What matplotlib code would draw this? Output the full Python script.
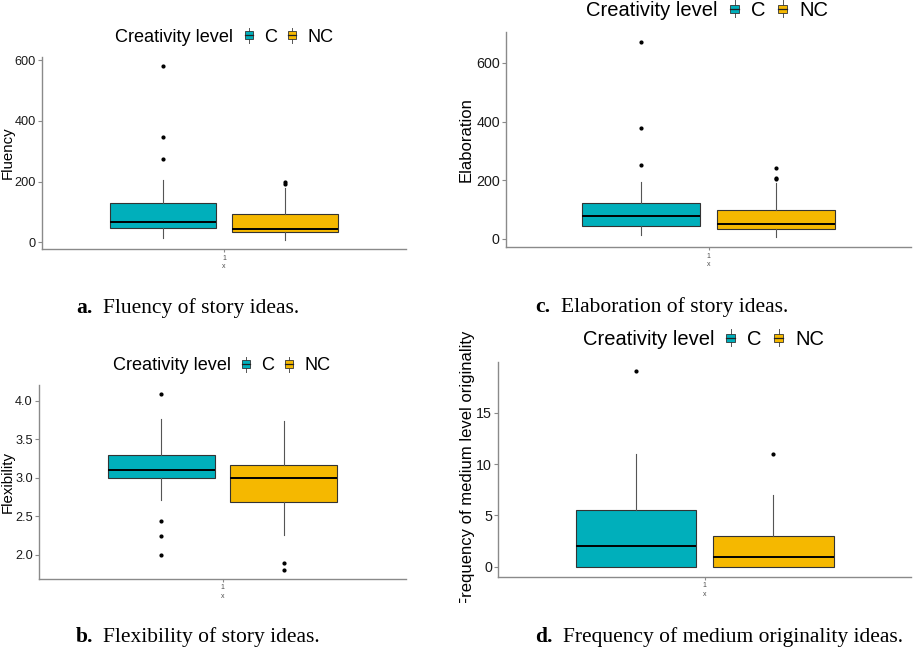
import matplotlib
matplotlib.use('Agg')
import matplotlib.pyplot as plt
from matplotlib.patches import Rectangle
from matplotlib.lines import Line2D
from matplotlib.legend_handler import HandlerBase
from matplotlib.transforms import Bbox, TransformedBbox

W, H = 913, 650

groups = ['C', 'NC']
colors = ['#00AFBB', '#F5B800']

# box stats: q1, median, q3, whisker low, whisker high, outliers
fluency_C = dict(q1=47, med=68, q3=129, whislo=14, whishi=207, fliers=[582, 346, 275])
fluency_NC = dict(q1=34, med=45, q3=94, whislo=7, whishi=178, fliers=[200, 191])

elab_C = dict(q1=44, med=78, q3=122, whislo=15, whishi=194, fliers=[672, 378, 252])
elab_NC = dict(q1=35, med=51, q3=100, whislo=6, whishi=191, fliers=[242, 208, 204])

flex_C = dict(q1=3.0, med=3.10, q3=3.30, whislo=2.71, whishi=3.76, fliers=[4.09, 2.43, 2.24, 2.0])
flex_NC = dict(q1=2.68, med=3.0, q3=3.16, whislo=2.25, whishi=3.74, fliers=[1.89, 1.80])

medium_C = dict(q1=0, med=2, q3=5.5, whislo=0, whishi=11, fliers=[19])
medium_NC = dict(q1=0, med=1, q3=3, whislo=0, whishi=7, fliers=[11])

ylabels = ['Fluency', 'Elaboration', 'Flexibility', 'Frequency of medium level originality']
yticks = [[0, 200, 400, 600], [0, 200, 400, 600], [2.0, 2.5, 3.0, 3.5, 4.0], [0, 5, 10, 15]]
captions = [('a.', 'Fluency of story ideas.'), ('c.', 'Elaboration of story ideas.'),
            ('b.', 'Flexibility of story ideas.'), ('d.', 'Frequency of medium originality ideas.')]


def fx(x):
    return x / W


def fy(y):
    return 1 - y / H


class BoxKey(HandlerBase):
    def create_artists(self, legend, orig, xd, yd, w, h, fs, trans):
        x0, y0 = -xd, -yd
        fc = orig.get_facecolor()
        wl = dict(color='#555555', lw=0.7, transform=trans)
        wb = Line2D([x0 + w / 2] * 2, [y0 - 0.1 * h, y0 + 0.2 * h], **wl)
        wt = Line2D([x0 + w / 2] * 2, [y0 + 0.8 * h, y0 + 1.1 * h], **wl)
        box = Rectangle((x0, y0 + 0.2 * h), w, 0.6 * h, facecolor=fc,
                        edgecolor='#333333', lw=0.6, transform=trans)
        med = Line2D([x0, x0 + w], [y0 + 0.5 * h] * 2, color='#222222', lw=0.9, transform=trans)
        return [wb, wt, box, med]


fig = plt.figure(figsize=(W / 100, H / 100), dpi=100)
plt.rcParams['font.family'] = 'Liberation Sans'

# axes frame in pixels: left, top, right, bottom
frames = [(42, 57, 406, 249), (506, 32, 911, 247), (39, 385, 406, 578.7), (498.3, 361.7, 911, 576.7)]
panels = [(fluency_C, fluency_NC), (elab_C, elab_NC), (flex_C, flex_NC), (medium_C, medium_NC)]
scale = [0.9, 1.0, 0.9, 1.0]
# legend: title right edge, first key x, centre y
legpos = [(233, 245, 37), (718, 730, 10.5), (231, 242, 366), (714, 726, 339.5)]
ylabx = [8, 466, 8, 467]
capx = [(76, 103.3, 308), (535, 560.7, 307), (76, 103.3, 637), (535, 563.3, 637)]

for i in range(4):
    l, t, r, b = frames[i]
    ax = fig.add_axes([fx(l), fy(b), fx(r - l), (b - t) / H])
    s = scale[i]
    sC, sNC = panels[i]
    stats = []
    for d in (sC, sNC):
        st = dict(d)
        st['fliers'] = list(d['fliers'])
        stats.append(st)
    bp = ax.bxp(stats, positions=[0.8, 1.2], widths=0.35, patch_artist=True, showcaps=False,
                boxprops=dict(edgecolor='#333333', linewidth=0.8),
                medianprops=dict(color='black', linewidth=1.4),
                whiskerprops=dict(color='#555555', linewidth=0.8),
                flierprops=dict(marker='o', markersize=2.0, markerfacecolor='black',
                                markeredgecolor='black'))
    for patch, c in zip(bp['boxes'], colors):
        patch.set_facecolor(c)

    vals = []
    for d in (sC, sNC):
        vals += [d['whislo'], d['whishi']] + d['fliers']
    lo, hi = min(vals), max(vals)
    pad = (hi - lo) * 0.05
    ax.set_ylim(lo - pad, hi + pad)
    ax.set_xlim(0.4, 1.6)

    ax.set_yticks(yticks[i])
    if i == 2:
        ax.set_yticklabels(['%.1f' % v for v in yticks[i]])
    ax.set_xticks([1])
    ax.set_xticklabels(['1'])
    ax.set_xlabel('x', fontsize=5, color='#4d4d4d', labelpad=1)

    for sp in ['top', 'right']:
        ax.spines[sp].set_visible(False)
    for sp in ['left', 'bottom']:
        ax.spines[sp].set_color('#8a8a8a')
        ax.spines[sp].set_linewidth(1.0)
    ax.tick_params(axis='y', labelsize=10.3 if s == 1 else 9.2, colors='#8a8a8a',
                   labelcolor='#1a1a1a', length=3, width=0.8, pad=1.5)
    ax.tick_params(axis='x', labelsize=5, colors='#8a8a8a', labelcolor='#4d4d4d',
                   length=2.5, width=0.8, pad=1.5)

    ax.set_ylabel(ylabels[i], fontsize=12 * s, va='center')
    ax.yaxis.set_label_coords(fx(ylabx[i]), 0.5 * (fy(t) + fy(b)), transform=fig.transFigure)
    if i == 3:
        clip = TransformedBbox(Bbox.from_extents(0, fy(603), 1, 1), fig.transFigure)
        ax.yaxis.label.set_clip_box(clip)
        ax.yaxis.label.set_clip_on(True)

    # legend on top
    tr, kx, ly = legpos[i]
    lfs = 14.5 * s
    handles = [Rectangle((0, 0), 1, 1, facecolor=c) for c in colors]
    ax.legend(handles, groups, handler_map={Rectangle: BoxKey()}, loc='center left',
              bbox_to_anchor=(fx(kx), fy(ly)), bbox_transform=fig.transFigure,
              ncol=2, frameon=False, fontsize=lfs, borderpad=0, borderaxespad=0,
              handlelength=0.45, handleheight=0.7, handletextpad=0.6, columnspacing=0.62)
    fig.text(fx(tr), fy(ly), 'Creativity level', ha='right', va='center', fontsize=lfs)

    # caption
    bx, tx, cy = capx[i]
    fig.text(fx(bx), fy(cy), captions[i][0], fontsize=15.5, fontweight='bold',
             family='Liberation Serif', ha='left', va='center')
    fig.text(fx(tx), fy(cy), captions[i][1], fontsize=15.5,
             family='Liberation Serif', ha='left', va='center')

fig.savefig('out.png', dpi=100)
